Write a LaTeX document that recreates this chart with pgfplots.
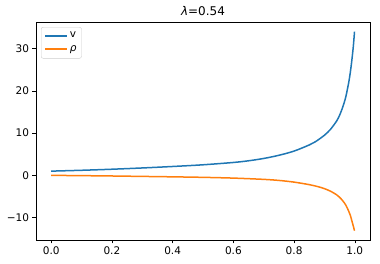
\documentclass[border=0pt]{standalone}
\usepackage{pgfplots}
\pgfplotsset{compat=1.18}
\usepackage{fontspec}
\setmainfont{DejaVu Sans}
\definecolor{mplblue}{HTML}{1F77B4}
\definecolor{mplorange}{HTML}{FF7F0E}
\begin{document}
\begin{tikzpicture}
\begin{axis}[
  name=ax,
  at={(0,0)}, anchor=south west,
  scale only axis,
  width=334pt, height=218pt,
  xmin=-0.05, xmax=1.05,
  ymin=-15.3, ymax=36.3,
  xtick={0,0.2,0.4,0.6,0.8,1.0},
  xticklabels={0.0,0.2,0.4,0.6,0.8,1.0},
  ytick={-10,0,10,20,30},
  yticklabels={−10,0,10,20,30},
  tick align=outside,
  xtick pos=bottom, ytick pos=left,
  major tick length=3.5pt,
  tick style={black, line width=0.6pt},
  axis line style={line width=0.6pt},
  ticklabel style={font=\fontsize{10.5}{12}\selectfont},
  title={\textit{λ}=0.54},
  title style={font=\fontsize{12}{14}\selectfont, yshift=-3pt},
  legend style={at={(0.015,0.977)}, anchor=north west, draw=black!20, rounded corners=2pt,
    font=\fontsize{10.5}{12}\selectfont, row sep=2.5pt, inner xsep=3pt, inner ysep=3pt},
  legend cell align=left,
]
\addlegendimage{legend image code/.code={\draw[mplblue, line width=1.6pt] (0pt,0pt) -- (22pt,0pt);}}
\addlegendentry{v}
\addlegendimage{legend image code/.code={\draw[mplorange, line width=1.6pt] (0pt,0.5pt) -- (22pt,0.5pt);}}
\addlegendentry{\textit{ρ}}
\addplot[forget plot, color=mplblue, line width=1.5pt, smooth, tension=0.5] coordinates {
(0,1.0) (0.1,1.2) (0.2,1.45) (0.3,1.75) (0.4,2.1) (0.5,2.5) (0.6,3.05) (0.65,3.45)
(0.7,4.0) (0.75,4.75) (0.8,5.75) (0.85,7.2) (0.87,7.95) (0.9,9.5) (0.92,10.9) (0.94,12.85)
(0.95,14.25) (0.96,16.1) (0.97,18.5) (0.98,22.0) (0.985,24.3) (0.99,27.1) (0.995,30.5) (0.999,34.0)};
\addplot[forget plot, color=mplorange, line width=1.5pt, smooth, tension=0.5] coordinates {
(0,0) (0.1,-0.07) (0.2,-0.15) (0.3,-0.25) (0.4,-0.35) (0.5,-0.47) (0.6,-0.65) (0.7,-0.95)
(0.75,-1.2) (0.8,-1.6) (0.85,-2.2) (0.88,-2.7) (0.9,-3.15) (0.92,-3.75) (0.94,-4.6)
(0.95,-5.2) (0.96,-6.0) (0.97,-7.0) (0.98,-8.5) (0.985,-9.4) (0.99,-10.7) (0.995,-12.0) (0.999,-13.1)};
\end{axis}
\pgfresetboundingbox
\path (ax.south west) ++(-36pt,-24pt) rectangle ++(380pt,264pt);
\end{tikzpicture}
\end{document}
